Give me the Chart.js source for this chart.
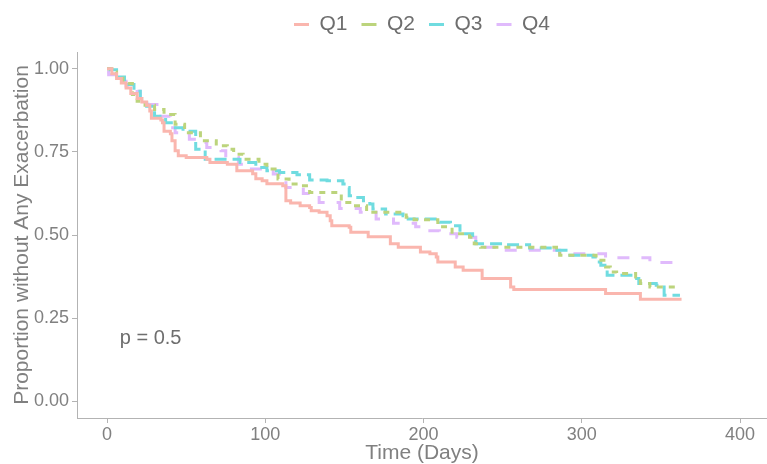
<!DOCTYPE html>
<html>
<head>
<meta charset="utf-8">
<script src="https://cdn.jsdelivr.net/npm/chart.js@4.4.0/dist/chart.umd.min.js"></script>
<style>
  html, body { margin: 0; padding: 0; background: #fff; }
  #wrap { width: 767px; height: 464px; }
</style>
</head>
<body>
<div id="wrap"><canvas id="kmChart"></canvas></div>
<script>
// group labels
const groups = ['Q1', 'Q2', 'Q3', 'Q4'];

// Q1 - event days and survival after each event
const q1Days = [0, 3, 6, 9, 12, 15, 19, 22, 25, 27, 28, 34, 35, 36, 40, 41, 43, 45, 50, 63, 65, 76, 82, 92, 94, 98, 101, 111, 113, 116, 122, 128, 129, 134, 139, 141, 142, 153, 154, 165, 179, 184, 198, 204, 208, 209, 220, 225, 237, 255, 257, 315, 337, 363];
const q1Surv = [1, 0.985, 0.97, 0.957, 0.942, 0.925, 0.91, 0.9, 0.89, 0.873, 0.851, 0.846, 0.837, 0.812, 0.804, 0.783, 0.753, 0.738, 0.733, 0.728, 0.718, 0.713, 0.693, 0.684, 0.669, 0.663, 0.654, 0.648, 0.603, 0.596, 0.588, 0.583, 0.573, 0.568, 0.558, 0.543, 0.528, 0.523, 0.508, 0.495, 0.474, 0.463, 0.449, 0.444, 0.434, 0.419, 0.404, 0.394, 0.369, 0.344, 0.336, 0.324, 0.307, 0.307];

// Q2
const q2Days = [0, 3, 6, 10, 16, 19, 24, 30, 36, 43, 49, 59, 69, 76, 80, 86, 96, 101, 108, 115, 122, 128, 148, 155, 164, 189, 194, 209, 212, 218, 229, 232, 236, 284, 286, 309, 315, 318, 322, 334, 337, 343, 362];
const q2Surv = [1, 0.99, 0.977, 0.955, 0.922, 0.902, 0.89, 0.877, 0.862, 0.833, 0.807, 0.783, 0.768, 0.758, 0.743, 0.728, 0.713, 0.698, 0.668, 0.653, 0.648, 0.628, 0.598, 0.588, 0.568, 0.553, 0.546, 0.533, 0.525, 0.504, 0.493, 0.474, 0.463, 0.449, 0.439, 0.424, 0.404, 0.389, 0.384, 0.374, 0.354, 0.344, 0.344];

// Q3
const q3Days = [0, 2, 7, 11, 17, 21, 25, 30, 37, 42, 48, 56, 62, 84, 94, 101, 109, 120, 128, 139, 149, 152, 153, 157, 162, 166, 168, 176, 187, 189, 210, 217, 223, 231, 233, 250, 267, 282, 290, 307, 310, 312, 316, 332, 336, 347, 352, 362];
const q3Surv = [1, 0.997, 0.975, 0.952, 0.932, 0.91, 0.887, 0.857, 0.837, 0.822, 0.812, 0.758, 0.728, 0.718, 0.703, 0.693, 0.688, 0.681, 0.665, 0.663, 0.653, 0.643, 0.618, 0.613, 0.603, 0.593, 0.578, 0.563, 0.558, 0.548, 0.538, 0.528, 0.504, 0.493, 0.474, 0.471, 0.461, 0.454, 0.439, 0.434, 0.419, 0.409, 0.379, 0.369, 0.354, 0.349, 0.319, 0.319];

// Q4
const q4Days = [0, 1, 8, 12, 19, 21, 26, 33, 40, 43, 52, 61, 63, 72, 75, 83, 88, 105, 113, 124, 134, 147, 160, 170, 181, 195, 200, 210, 221, 233, 246, 286, 315, 343, 364];
const q4Surv = [0.99, 0.982, 0.962, 0.947, 0.932, 0.912, 0.892, 0.857, 0.822, 0.807, 0.788, 0.778, 0.763, 0.753, 0.733, 0.713, 0.698, 0.683, 0.643, 0.625, 0.598, 0.58, 0.568, 0.548, 0.535, 0.525, 0.513, 0.504, 0.493, 0.463, 0.454, 0.444, 0.432, 0.417, 0.417];

const xTicks = [0, 100, 200, 300, 400];
const yTicks = [0, 0.25, 0.5, 0.75, 1];
const pText = 'p = 0.5';

const colors = ['rgb(250,182,174)', 'rgb(188,212,124)', 'rgb(112,220,224)', 'rgb(224,186,252)'];
const dashes = [[], [6, 6], [12, 6], [12, 12]];
const txtColor = '#808080';
const axisColor = '#b3b3b3';
const fontFam = '"Liberation Sans", Arial, sans-serif';

function toPoints(days, surv) {
    return days.map((d, i) => ({ x: d, y: surv[i] }));
}

const allDays = [q1Days, q2Days, q3Days, q4Days];
const allSurv = [q1Surv, q2Surv, q3Surv, q4Surv];

const datasets = groups.map((g, i) => ({
    label: g,
    data: toPoints(allDays[i], allSurv[i]),
    stepped: 'before',
    borderColor: colors[i],
    backgroundColor: colors[i],
    borderWidth: 3,
    borderDash: dashes[i],
    borderCapStyle: 'butt',
    pointRadius: 0,
    fill: false
}));

// p-value text inside the plot
const pValuePlugin = {
    id: 'pValue',
    beforeLayout(chart) {
        // leave a bit more room under the legend
        const lg = chart.legend;
        if (lg && !lg._extraRoom) {
            const origFit = lg.fit.bind(lg);
            lg.fit = function () { origFit(); this.height += 7; };
            lg._extraRoom = true;
        }
    },
    afterDatasetsDraw(chart) {
        const ctx = chart.ctx;
        const xs = chart.scales.x, ys = chart.scales.y;
        ctx.save();
        ctx.font = '20px ' + fontFam;
        ctx.fillStyle = '#6e6e6e';
        ctx.textAlign = 'left';
        ctx.textBaseline = 'middle';
        ctx.fillText(pText, xs.getPixelForValue(8), ys.getPixelForValue(0.19));
        ctx.restore();
    }
};

const CHART = document.getElementById('kmChart');
let kmChart = new Chart(CHART, {
    type: 'line',
    data: { datasets: datasets },
    plugins: [pValuePlugin],
    options: {
        responsive: true,
        maintainAspectRatio: false,
        animation: false,
        layout: { padding: { top: 0, right: 0, bottom: 0, left: 0 } },
        plugins: {
            tooltip: { enabled: false },
            legend: {
                position: 'top',
                fullSize: false,
                labels: {
                    usePointStyle: true,
                    pointStyle: 'line',
                    pointStyleWidth: 15,
                    padding: 14,
                    color: '#6e6e6e',
                    font: { family: fontFam, size: 21 }
                }
            }
        },
        scales: {
            x: {
                type: 'linear',
                min: -19,
                max: 417,
                afterBuildTicks: (scale) => { scale.ticks = xTicks.map(v => ({ value: v })); },
                afterFit: (scale) => { scale.height = 46; },
                ticks: { color: txtColor, padding: 1, font: { family: fontFam, size: 18 } },
                grid: { drawOnChartArea: false, tickLength: 5, color: axisColor },
                border: { color: axisColor, width: 1 },
                title: { display: true, text: 'Time (Days)', color: txtColor, padding: { top: 0, bottom: -2 }, font: { family: fontFam, size: 21 } }
            },
            y: {
                min: -0.05,
                max: 1.05,
                afterBuildTicks: (scale) => { scale.ticks = yTicks.map(v => ({ value: v })); },
                afterFit: (scale) => { scale.width = 77; },
                ticks: { color: txtColor, padding: 3, font: { family: fontFam, size: 18 }, callback: (v) => v.toFixed(2) },
                grid: { drawOnChartArea: false, tickLength: 5, color: axisColor },
                border: { color: axisColor, width: 1 },
                title: { display: true, text: 'Proportion without Any Exacerbation', color: txtColor, padding: { top: 10, bottom: 0 }, font: { family: fontFam, size: 21 } }
            }
        }
    }
});
</script>
</body>
</html>
